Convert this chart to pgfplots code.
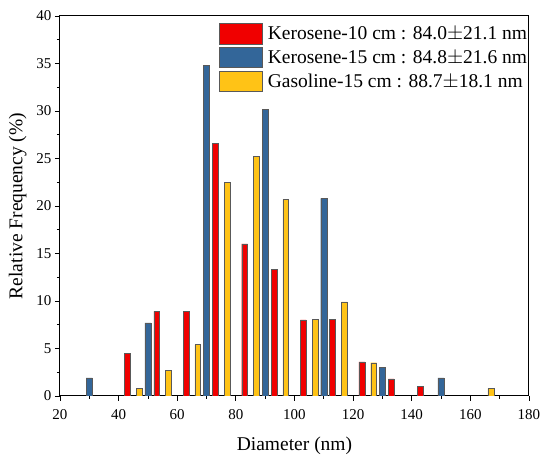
\documentclass[border=0pt]{standalone}
\usepackage{pgfplots}
\pgfplotsset{compat=1.18}
\usepackage{fontspec}
\setmainfont{Liberation Serif}
\definecolor{cRed}{HTML}{F00000}
\definecolor{cBlue}{HTML}{336699}
\definecolor{cYel}{HTML}{FFC316}
\begin{document}
\begin{tikzpicture}
\useasboundingbox (-60pt,-66pt) rectangle (490pt,396pt);
\begin{axis}[
  scale only axis,
  width=469pt, height=380pt,
  xmin=20, xmax=180, ymin=0, ymax=40,
  xtick={20,40,...,180}, ytick={0,5,...,40},
  minor x tick num=1, minor y tick num=1,
  tick align=outside, xtick pos=bottom, ytick pos=left,
  major tick length=5pt, minor tick length=3pt,
  axis line style={line width=1pt}, every tick/.style={line width=0.8pt, black},
  tick label style={font=\fontsize{15}{18}\selectfont},
  xticklabel style={yshift=-5pt},
  /pgf/number format/assume math mode=true,
  xlabel={Diameter (nm)}, ylabel={Relative Frequency (\%)},
  label style={font=\fontsize{19.5}{22}\selectfont},
  xlabel style={yshift=-10pt},
  ylabel style={yshift=3pt},
  legend style={at={(1.007,0.987)}, anchor=north east, draw=none, fill=none,
    font=\fontsize{19.5}{22}\selectfont, row sep=2.8pt,
    legend cell align=left},
  legend image code/.code={\draw[#1] (0pt,-10pt) rectangle (43pt,10.5pt); \path (46pt,0pt);},
]
\addplot[ybar, bar width=2, bar shift=0pt, fill=cRed, draw=black!65, line width=0.4pt] coordinates {
(43,4.5) (53,8.9) (63,8.9) (73,26.6) (83,16.0) (93,13.3) (103,8.0) (113,8.1) (123,3.6) (133,1.8) (143,1.0)};
\addlegendentry{Kerosene-10 cm : 84.0$\pm$21.1 nm}
\addplot[ybar, bar width=2.1, bar shift=0pt, fill=cBlue, draw=black!65, line width=0.4pt] coordinates {
(30,1.9) (50,7.7) (70,34.8) (90,30.2) (110,20.8) (130,3.0) (150,1.9)};
\addlegendentry{Kerosene-15 cm : 84.8$\pm$21.6 nm}
\addplot[ybar, bar width=2, bar shift=0pt, fill=cYel, draw=black!65, line width=0.4pt] coordinates {
(47,0.8) (57,2.7) (67,5.4) (77,22.5) (87,25.2) (97,20.7) (107,8.1) (117,9.9) (127,3.5) (167,0.8)};
\addlegendentry{Gasoline-15 cm : 88.7$\pm$18.1 nm}
\end{axis}
\end{tikzpicture}
\end{document}
